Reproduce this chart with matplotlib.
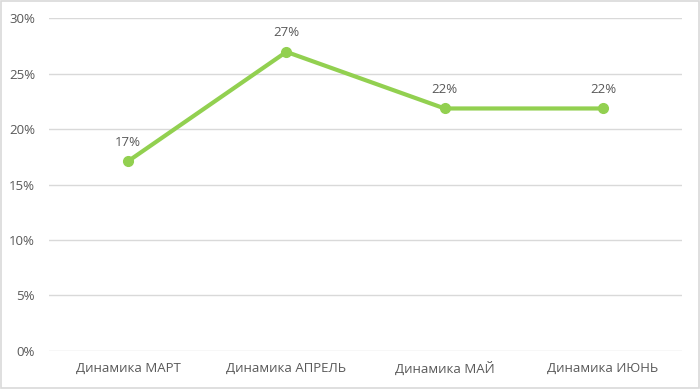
import matplotlib
matplotlib.use('Agg')
import matplotlib.pyplot as plt
from matplotlib.ticker import PercentFormatter
from matplotlib.patches import Rectangle

categories = ['Динамика МАРТ', 'Динамика АПРЕЛЬ', 'Динамика МАЙ', 'Динамика ИЮНЬ']
values = [17.1, 26.95, 21.85, 21.85]
labels = ['17%', '27%', '22%', '22%']

plt.rcParams['font.family'] = ['Open Sans', 'DejaVu Sans']
txt = '#595959'

fig = plt.figure(figsize=(7, 3.89), dpi=100)
fig.patches.append(Rectangle((0.002, 0.003), 0.996, 0.994, transform=fig.transFigure,
                             fill=False, edgecolor='#D9D9D9', linewidth=1.2))
ax = fig.add_axes([0.07, 0.0977, 0.9043, 0.856])

x = list(range(len(categories)))
ax.plot(x, values, color='#92D050', linewidth=3, marker='o', markersize=7, zorder=3)
for xi, v, l in zip(x, values, labels):
    ax.annotate(l, (xi, v), xytext=(0, 9), textcoords='offset points',
                ha='center', va='bottom', fontsize=9.5, color=txt)

ax.set_xlim(-0.5, len(categories) - 0.5)
ax.set_ylim(0, 30)
ax.set_yticks(range(0, 31, 5))
ax.yaxis.set_major_formatter(PercentFormatter(decimals=0))
ax.set_xticks(x)
ax.set_xticklabels(categories)
ax.grid(axis='y', color='#D9D9D9', linewidth=1)
ax.set_axisbelow(True)
for s in ax.spines.values():
    s.set_visible(False)
ax.tick_params(length=0, colors=txt, labelsize=9.5)
ax.tick_params(axis='x', pad=8)
ax.tick_params(axis='y', pad=10)

fig.savefig('out.png', dpi=100)
